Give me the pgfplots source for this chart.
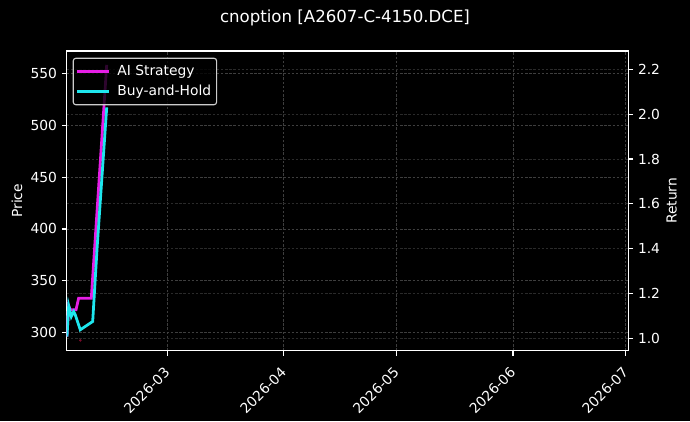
\documentclass[border=0pt]{standalone}
\usepackage{fontspec}
\setmainfont{DejaVu Sans}
\usepackage{pgfplots}
\pgfplotsset{compat=1.18}

\definecolor{aistrat}{HTML}{E61EE6}
\definecolor{bnh}{HTML}{1EE6EE}
\definecolor{gridA}{HTML}{3E3E3E}
\definecolor{gridB}{HTML}{2A2A2A}
\definecolor{legframe}{HTML}{CCCCCC}
\definecolor{sigred}{HTML}{7A0A2A}

% 1 px of the reference = 0.72bp, so matplotlib points map to bp
\pgfplotsset{
  darkbase/.style={
    scale only axis, width=404.35bp, height=215.8bp,
    at={(0,0)}, anchor=south west,
    xmin=1.22, xmax=150.69,
    axis line style={white, line width=0.8bp},
    every tick/.style={white, line width=0.8bp},
    major tick length=3.5bp,
    tick align=outside,
    ticklabel style={font=\fontsize{10}{12}\selectfont, text=white},
    /pgf/number format/assume math mode=true,
  }
}

\pgfplotstableread{
day ret
1.30 1.008
1.75 1.145
2.18 1.127
3.70 1.127
4.40 1.179
7.77 1.179
11.87 2.22
}\aistrategy

\pgfplotstableread{
day ret
1.30 1.008
1.75 1.145
2.44 1.097
3.08 1.119
3.50 1.105
4.84 1.038
8.14 1.075
9.30 1.400
11.87 2.030
}\buyhold

\begin{document}
\begin{tikzpicture}
\path[use as bounding box, fill=black] (-48.02bp,-50.62bp) rectangle (448.78bp,252.52bp);

% price axis (left)
\begin{axis}[darkbase,
  ymin=282.66, ymax=571.5,
  ytick={300,350,400,450,500,550}, ytick pos=left,
  xtick={28,59,89,120,150},
  xticklabels={2026-03,2026-04,2026-05,2026-06,2026-07},
  xtick pos=bottom,
  xticklabel style={rotate=45, anchor=north east, xshift=-4bp},
  grid=major,
  major grid style={gridA, dash pattern=on 1.8bp off 1.2bp, line width=0.5bp},
]
\addplot[only marks, mark=*, mark size=0.7bp, sigred] coordinates {(4.84,292.6)};
\end{axis}

% return axis (right)
\begin{axis}[darkbase,
  ymin=0.9446, ymax=2.2817,
  ytick={1.0,1.2,1.4,1.6,1.8,2.0,2.2}, ytick pos=right,
  yticklabel style={/pgf/number format/.cd, fixed, fixed zerofill, precision=1},
  xtick=\empty,
  ymajorgrids,
  major grid style={gridB, dash pattern=on 1.8bp off 1.2bp, line width=0.5bp},
  legend cell align=left,
  legend image code/.code={\draw[#1, line width=2bp] (0bp,0bp) -- (22.8bp,0bp);},
  legend style={at={(0,1)}, anchor=north west, xshift=4.3bp, yshift=-4.8bp,
    fill=black, fill opacity=0.8, text opacity=1, draw=legframe,
    rounded corners=2bp, line width=0.8bp,
    font=\fontsize{10}{12}\selectfont, text=white,
    inner xsep=2bp, inner ysep=3bp, row sep=1.6bp, column sep=3bp},
]
\addplot[aistrat, line width=2bp] table[x=day, y=ret] {\aistrategy};
\addlegendentry{AI Strategy}
\addplot[bnh, line width=2bp] table[x=day, y=ret] {\buyhold};
\addlegendentry{Buy-and-Hold}
\end{axis}

\node[text=white, font=\fontsize{12}{14}\selectfont] at (200.38bp,239.56bp) {cnoption [A2607-C-4150.DCE]};
\node[text=white, rotate=90, font=\fontsize{10}{12}\selectfont] at (-35.8bp,107.9bp) {Price};
\node[text=white, rotate=90, font=\fontsize{10}{12}\selectfont] at (435.6bp,107.9bp) {Return};
\end{tikzpicture}
\end{document}
